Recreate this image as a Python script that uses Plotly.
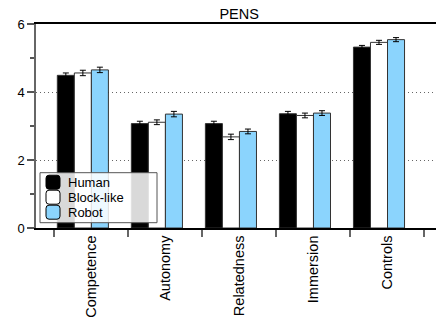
import plotly.graph_objects as go

categories = ["Competence", "Autonomy", "Relatedness", "Immersion", "Controls"]
series_names = ["Human", "Block-like", "Robot"]
human = [4.49, 3.07, 3.07, 3.36, 5.32]
human_err = [0.07, 0.07, 0.07, 0.07, 0.05]
block = [4.56, 3.11, 2.68, 3.31, 5.46]
block_err = [0.08, 0.07, 0.08, 0.07, 0.06]
robot = [4.65, 3.35, 2.84, 3.38, 5.54]
robot_err = [0.08, 0.08, 0.07, 0.07, 0.06]
y_ticks = [0, 2, 4, 6]

colors = ["#000000", "#ffffff", "#8bd4fd"]
offsets = [-0.455, -0.225, 0.005]
FONT = "Liberation Sans, Arial, Helvetica, sans-serif"

fig = go.Figure()
for name, vals, errs, col, off in zip(series_names, [human, block, robot],
                                      [human_err, block_err, robot_err], colors, offsets):
    fig.add_trace(go.Bar(
        x=categories, y=vals, name=name, width=0.23, offset=off,
        marker=dict(color=col, line=dict(color="#333333", width=1)),
        error_y=dict(type="data", array=errs, color="black", thickness=1, width=3),
        showlegend=False,
    ))

fig.update_layout(
    width=436, height=326,
    margin=dict(l=36, r=0, t=24, b=98, autoexpand=False),
    paper_bgcolor="white", plot_bgcolor="white",
    barmode="overlay",
    font=dict(family=FONT, size=13, color="black"),
    title=dict(text="PENS", x=0.508, xref="paper", xanchor="center",
               y=1 - 13.5 / 326, yref="container", yanchor="middle",
               font=dict(size=14.5, family=FONT, color="black")),
)
fig.update_xaxes(
    type="category", range=[-0.743, 4.66],
    tickson="boundaries", ticks="outside", ticklen=7, tickcolor="#666666", tickwidth=1.5,
    tickangle=-90, tickfont=dict(size=14.5, family=FONT, color="black"),
    showline=True, linecolor="black", linewidth=1.5, mirror=True,
    showgrid=False, zeroline=False,
)
fig.update_yaxes(
    range=[0, 6], tickvals=y_ticks, ticktext=[str(v) for v in y_ticks],
    ticks="outside", ticklen=7, tickcolor="#555555", tickwidth=1.5,
    tickfont=dict(size=13, family=FONT, color="black"),
    minor=dict(tickvals=[1, 3, 5], ticks="outside", ticklen=4, tickcolor="#555555", tickwidth=1.5, showgrid=False),
    showline=True, linecolor="#666666", linewidth=1.5,
    showgrid=True, gridcolor="#666666", griddash="1px,3px", gridwidth=1,
    zeroline=False,
)

# Manual legend (pixel positions converted to paper coordinates)
PX0, PW, PY0, PH = 36, 400, 228.3, 204
def px(x):
    return (x - PX0) / PW
def py(y):
    return (PY0 - y) / PH

shapes = [dict(type="rect", xref="paper", yref="paper",
               x0=px(40), x1=px(157), y0=py(223), y1=py(173),
               fillcolor="rgba(255,255,255,0.85)", line=dict(color="#555555", width=1), layer="above")]
annotations = []
centers = [182.5, 197.5, 212.5]
for name, col, cy in zip(series_names, colors, centers):
    x0, x1 = 46, 60
    y0, y1 = cy - 7, cy + 7
    r = 3
    path = (f"M {px(x0 + r)},{py(y0)} L {px(x1 - r)},{py(y0)} Q {px(x1)},{py(y0)} {px(x1)},{py(y0 + r)} "
            f"L {px(x1)},{py(y1 - r)} Q {px(x1)},{py(y1)} {px(x1 - r)},{py(y1)} "
            f"L {px(x0 + r)},{py(y1)} Q {px(x0)},{py(y1)} {px(x0)},{py(y1 - r)} "
            f"L {px(x0)},{py(y0 + r)} Q {px(x0)},{py(y0)} {px(x0 + r)},{py(y0)} Z")
    shapes.append(dict(type="path", xref="paper", yref="paper", path=path,
                       fillcolor=col, line=dict(color="black", width=1), layer="above"))
    annotations.append(dict(text=name, xref="paper", yref="paper", x=px(66), y=py(cy),
                            xanchor="left", yanchor="middle", showarrow=False,
                            font=dict(size=13, family=FONT, color="black")))
fig.update_layout(shapes=shapes, annotations=annotations)

fig.write_html("out.html", config={"displayModeBar": False},
               post_script="document.body.style.margin='0';")
